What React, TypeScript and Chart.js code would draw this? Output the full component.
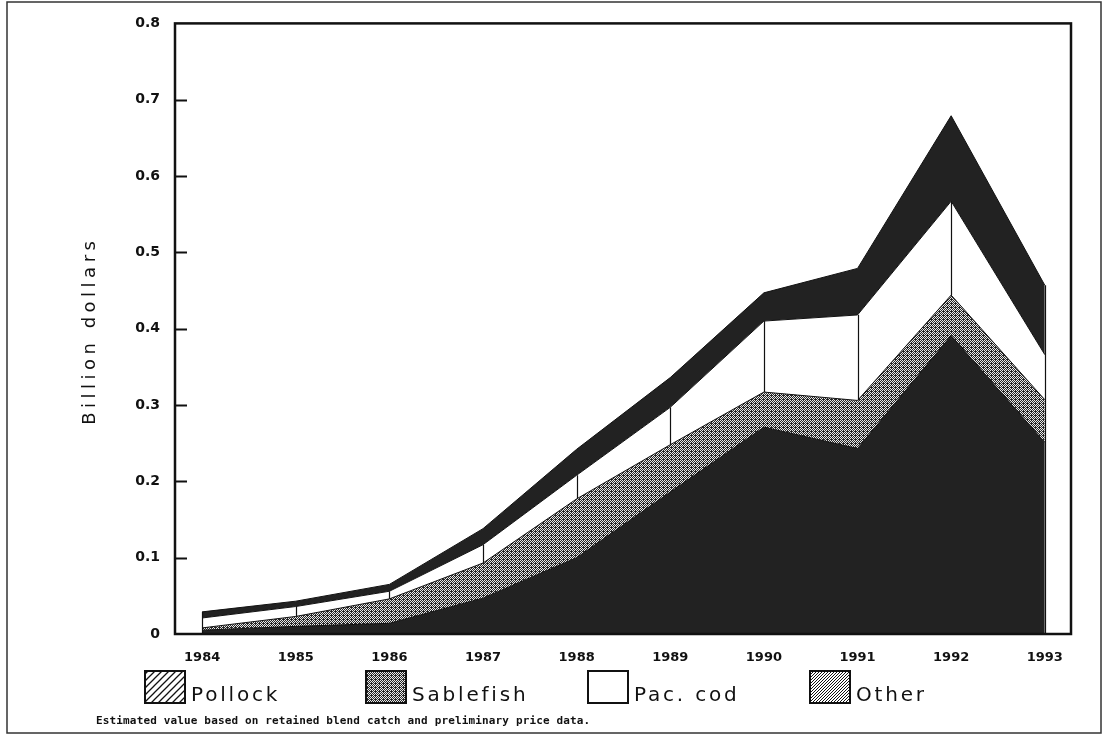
import React, { useEffect, useRef } from 'react';
import { Chart, registerables } from 'chart.js';
Chart.register(...registerables);

const years = [1984, 1985, 1986, 1987, 1988, 1989, 1990, 1991, 1992, 1993];
const pollock = [0.005, 0.010, 0.014, 0.047, 0.100, 0.186, 0.271, 0.243, 0.391, 0.251];
const sablefish = [0.003, 0.013, 0.032, 0.046, 0.077, 0.062, 0.046, 0.063, 0.053, 0.056];
const pacCod = [0.013, 0.013, 0.010, 0.024, 0.031, 0.049, 0.093, 0.112, 0.123, 0.059];
const other = [0.008, 0.007, 0.009, 0.021, 0.034, 0.039, 0.037, 0.061, 0.112, 0.091];
const seriesNames = ['Pollock', 'Sablefish', 'Pac. cod', 'Other'];
const yTitle = 'Billion dollars';
const footnote = 'Estimated value based on retained blend catch and preliminary price data.';

function checker(): CanvasPattern {
  const c = document.createElement('canvas');
  c.width = 4; c.height = 4;
  const g = c.getContext('2d')!;
  g.fillStyle = '#262626'; g.fillRect(0, 0, 4, 4);
  g.fillStyle = '#e8e8e8';
  g.fillRect(0, 0, 1, 1); g.fillRect(2, 0, 1, 1);
  g.fillRect(1, 1, 1, 1); g.fillRect(3, 1, 1, 1);
  g.fillRect(0, 2, 1, 1); g.fillRect(2, 2, 1, 1);
  g.fillRect(1, 3, 1, 1);
  return g.createPattern(c, 'repeat')!;
}

function hatch(step: number, lw: number): CanvasPattern {
  const c = document.createElement('canvas');
  c.width = step; c.height = step;
  const g = c.getContext('2d')!;
  g.fillStyle = '#fff'; g.fillRect(0, 0, step, step);
  g.strokeStyle = '#111'; g.lineWidth = lw;
  g.beginPath();
  g.moveTo(-1, step + 1); g.lineTo(step + 1, -1);
  g.moveTo(-1, 1); g.lineTo(1, -1);
  g.moveTo(step - 1, step + 1); g.lineTo(step + 1, step - 1);
  g.stroke();
  return g.createPattern(c, 'repeat')!;
}

export default function App() {
  const ref = useRef<HTMLCanvasElement | null>(null);
  useEffect(() => {
    if (!ref.current) return;
    const dot = checker();
    const legendFills: (string | CanvasPattern)[] = [hatch(7, 1.3), dot, '#ffffff', hatch(3, 1)];
    const legendX = [145, 366, 588, 810];

    const decor = {
      id: 'decor',
      afterDatasetsDraw(chart: any) {
        const { ctx, chartArea: a, scales } = chart;
        const x = scales.x, y = scales.y;
        ctx.save();
        ctx.strokeStyle = '#111';
        ctx.lineWidth = 1.2;
        years.forEach((yr, i) => {
          const px = Math.round(x.getPixelForValue(yr)) + 0.5;
          const lo = pollock[i] + sablefish[i];
          const hi = lo + pacCod[i];
          const first = i === 0 || i === years.length - 1;
          ctx.beginPath();
          ctx.moveTo(px, y.getPixelForValue(first ? 0 : lo));
          ctx.lineTo(px, y.getPixelForValue(first ? hi + other[i] : hi));
          ctx.stroke();
        });
        // frame
        ctx.lineWidth = 2.5;
        ctx.strokeRect(a.left, a.top, a.right - a.left, a.bottom - a.top);
        // inward ticks
        ctx.lineWidth = 2;
        y.ticks.forEach((t: any) => {
          if (t.value > 0.001 && t.value < 0.79) {
            const py = Math.round(y.getPixelForValue(t.value)) + 0.5;
            ctx.beginPath();
            ctx.moveTo(a.left, py);
            ctx.lineTo(a.left + 12, py);
            ctx.stroke();
          }
        });
        ctx.restore();
      },
      afterDraw(chart: any) {
        const { ctx, chartArea: a } = chart;
        ctx.save();
        // y title
        ctx.save();
        ctx.translate(90, (a.top + a.bottom) / 2 + 2);
        ctx.rotate(-Math.PI / 2);
        ctx.font = '18px "DejaVu Sans"';
        (ctx as any).letterSpacing = '4.5px';
        ctx.fillStyle = '#111';
        ctx.textAlign = 'center';
        ctx.textBaseline = 'middle';
        ctx.fillText(yTitle, 0, 0);
        ctx.restore();
        // legend
        seriesNames.forEach((name, i) => {
          const bx = legendX[i];
          ctx.fillStyle = legendFills[i] as any;
          ctx.fillRect(bx, 671, 40, 32);
          ctx.strokeStyle = '#111';
          ctx.lineWidth = 2;
          ctx.strokeRect(bx, 671, 40, 32);
          ctx.fillStyle = '#111';
          ctx.font = '20px "DejaVu Sans"';
          (ctx as any).letterSpacing = '2.8px';
          ctx.textAlign = 'left';
          ctx.textBaseline = 'alphabetic';
          ctx.fillText(name, bx + 46, 701);
        });
        // footnote
        (ctx as any).letterSpacing = '0.15px';
        ctx.font = 'bold 11px "DejaVu Sans Mono"';
        ctx.textBaseline = 'middle';
        ctx.fillText(footnote, 96, 721);
        // outer border
        (ctx as any).letterSpacing = '0px';
        ctx.strokeStyle = '#333';
        ctx.lineWidth = 1.5;
        ctx.strokeRect(7, 2, 1094, 731);
        ctx.restore();
      },
    };

    const mk = (arr: number[]) => years.map((yr, i) => ({ x: yr, y: arr[i] }));
    const chart = new Chart(ref.current, {
      type: 'line',
      data: {
        datasets: [
          { label: seriesNames[0], data: mk(pollock), fill: 'origin', backgroundColor: '#222222', borderColor: '#111', borderWidth: 1, pointRadius: 0 },
          { label: seriesNames[1], data: mk(sablefish), fill: '-1', backgroundColor: dot as any, borderColor: '#111', borderWidth: 1, pointRadius: 0 },
          { label: seriesNames[2], data: mk(pacCod), fill: '-1', backgroundColor: '#ffffff', borderColor: '#111', borderWidth: 1, pointRadius: 0 },
          { label: seriesNames[3], data: mk(other), fill: '-1', backgroundColor: '#222222', borderColor: '#111', borderWidth: 1, pointRadius: 0 },
        ],
      },
      options: {
        responsive: false,
        animation: false,
        layout: { padding: { left: 0, right: 33, top: 18, bottom: 0 } },
        plugins: { legend: { display: false }, tooltip: { enabled: false } },
        elements: { line: { tension: 0 } },
        scales: {
          x: {
            type: 'linear',
            min: 1983.71,
            max: 1993.28,
            afterBuildTicks: (s: any) => { s.ticks = years.map((v) => ({ value: v })); },
            afterFit: (s: any) => { s.height = 101; },
            grid: { display: false, drawTicks: false },
            border: { display: false },
            ticks: {
              callback: (v: any) => String(v),
              font: { family: '"DejaVu Sans"', size: 13, weight: 'bold' },
              color: '#111',
              padding: 16,
              maxRotation: 0,
              autoSkip: false,
            },
          },
          y: {
            stacked: true,
            min: 0,
            max: 0.8,
            afterFit: (s: any) => { s.width = 175; },
            grid: { display: false, drawTicks: false },
            border: { display: false },
            ticks: {
              stepSize: 0.1,
              callback: (v: any) => (Math.abs(v) < 1e-9 ? '0' : Number(v).toFixed(1)),
              font: { family: '"DejaVu Sans"', size: 14, weight: 'bold' },
              color: '#111',
              padding: 15,
            },
          },
        },
      },
      plugins: [decor],
    });
    return () => chart.destroy();
  }, []);

  return (
    <div style={{ position: 'absolute', left: 0, top: 0, width: 1104, height: 735, background: '#fff' }}>
      <canvas ref={ref} width={1104} height={735} style={{ display: 'block' }} />
    </div>
  );
}
